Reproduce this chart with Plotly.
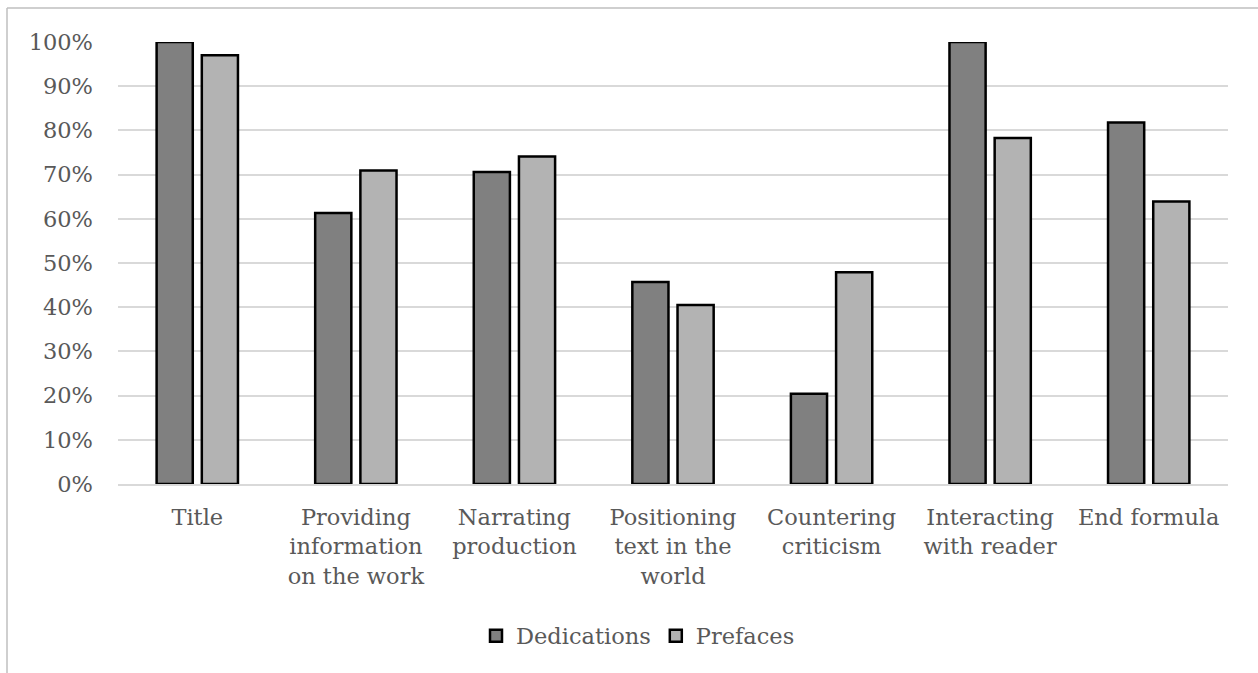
import plotly.graph_objects as go

categories = ["Title", "Providing<br>information<br>on the work", "Narrating<br>production",
              "Positioning<br>text in the<br>world", "Countering<br>criticism",
              "Interacting<br>with reader", "End formula"]
dedications = [1.00, 0.613, 0.706, 0.457, 0.204, 1.00, 0.818]
prefaces = [0.97, 0.709, 0.741, 0.405, 0.479, 0.783, 0.639]
y_ticks = [0, 0.1, 0.2, 0.3, 0.4, 0.5, 0.6, 0.7, 0.8, 0.9, 1.0]

W, H = 1258, 673
L, R, T, B = 118, 30, 42, 189
pw, ph = W - L - R, H - T - B

font = "DejaVu Serif"
txt = "#595959"
fs = 22.5

fig = go.Figure()
fig.add_trace(go.Bar(name="Dedications", x=categories, y=dedications,
                     marker=dict(color="#808080", line=dict(color="black", width=2.5))))
fig.add_trace(go.Bar(name="Prefaces", x=categories, y=prefaces,
                     marker=dict(color="#b3b3b3", line=dict(color="black", width=2.5))))

def px_x(p):
    return (p - L) / pw

def px_y(p):
    return (H - B - p) / ph

fig.update_layout(
    width=W, height=H,
    margin=dict(l=L, r=R, t=T, b=B, autoexpand=False),
    paper_bgcolor="white", plot_bgcolor="white",
    barmode="group", bargap=0.43, bargroupgap=0.2,
    font=dict(family=font, size=fs, color=txt),
    showlegend=True,
    legend=dict(orientation="h", x=px_x(638), xanchor="center", y=px_y(636), yanchor="middle",
                font=dict(family=font, size=fs, color=txt), itemwidth=30, traceorder="normal"),
    xaxis=dict(showgrid=False, showline=True, linecolor="#d9d9d9", linewidth=2,
               ticks="", tickfont=dict(family=font, size=fs, color=txt), ticklabelstandoff=12),
    yaxis=dict(range=[0, 1.0], tickvals=y_ticks, tickformat=".0%", showgrid=True,
               gridcolor="#d9d9d9", gridwidth=2, zeroline=False, showline=False,
               ticks="", tickfont=dict(family=font, size=fs, color=txt), ticklabelstandoff=24),
    shapes=[
        dict(type="line", xref="paper", yref="paper", x0=px_x(7), x1=px_x(1258), y0=px_y(8), y1=px_y(8),
             line=dict(color="#bfbfbf", width=1.5)),
        dict(type="line", xref="paper", yref="paper", x0=px_x(7), x1=px_x(7), y0=px_y(8), y1=px_y(673),
             line=dict(color="#bfbfbf", width=1.5)),
    ],
)

fig.write_html("out.html")
